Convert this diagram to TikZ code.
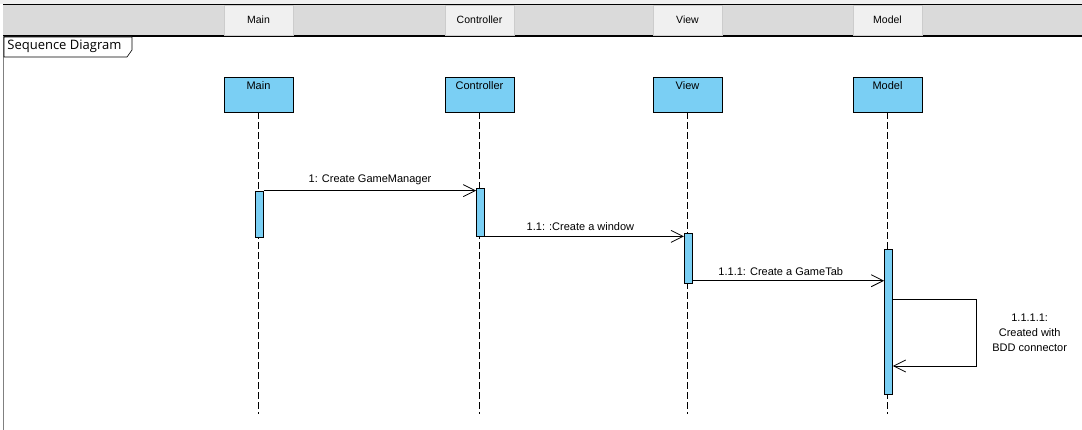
\documentclass[tikz,border=0pt]{standalone}
\usepackage{fontspec}
\setmainfont{Liberation Sans}
\newfontfamily\titlefont{Open Sans}
\usetikzlibrary{arrows.meta}
\definecolor{objblue}{RGB}{122,207,244}
\definecolor{bandgray}{RGB}{218,218,218}
\definecolor{tabgray}{RGB}{240,240,240}
\tikzset{o/.style={draw,fill=objblue,minimum width=69pt,minimum height=35pt,inner sep=0pt}}
\tikzset{ol/.style={anchor=north,yshift=-4.5pt,inner sep=0pt,font=\fontsize{11}{13}\selectfont}}
\tikzset{tb/.style={draw=gray!40,fill=tabgray,minimum width=69pt,minimum height=30pt,inner sep=0pt,font=\fontsize{10.5}{12}\selectfont}}
\tikzset{act/.style={draw,fill=objblue,minimum width=8pt,inner sep=0pt}}
\tikzset{ll/.style={dash pattern=on 7pt off 3pt}}
\tikzset{a/.style={-{Straight Barb[length=12pt,width=12pt]}}}
\tikzset{l/.style={above=5pt,inner sep=0pt,font=\fontsize{11}{13}\selectfont}}

\begin{document}
\begin{tikzpicture}[x=1pt,y=-1pt,line width=0.8pt]
  \useasboundingbox (0,0) rectangle (1082,430);
  % header band
  \fill[tabgray] (0,0) rectangle (1082,4);
  \fill[bandgray] (3,4) rectangle (1082,36);
  \draw (3,4) -- (1082,4);
  \draw[line width=1.2pt] (3,36) -- (1082,36);
  \draw[gray] (3,36) -- (3,430);
  \node[tb] (tMain) at (258.5,20) {Main};
  \node[tb] (tCtrl) at (479.5,20) {Controller};
  \node[tb] (tView) at (687.5,20) {View};
  \node[tb] (tModel) at (887.5,20) {Model};
  % frame label
  \draw[fill=white,line width=0.6pt] (4,37) -- (132,37) -- (132,50) -- (127,57) -- (4,57) -- cycle;
  \node[anchor=west,inner sep=0pt,font=\titlefont\fontsize{13}{15}\selectfont] (title) at (7,46.5) {Sequence Diagram};
  % lifelines
  \node[o,label={[ol]north:Main}] (Main) at (258.5,94.5) {};
  \node[o,label={[ol]north:Controller}] (Ctrl) at (479.5,94.5) {};
  \node[o,label={[ol]north:View}] (View) at (687.5,94.5) {};
  \node[o,label={[ol]north:Model}] (Model) at (887.5,94.5) {};
  \coordinate (bot) at (0,414);
  \foreach \n in {Main,Ctrl,View,Model}
    \draw[ll] (\n.south) -- (\n.south |- bot);
  % activations
  \node[act,minimum height=46pt] (A1) at (259.5,214) {};
  \node[act,minimum height=48pt] (C1) at (480.5,212) {};
  \node[act,minimum height=50pt] (V1) at (688.3,258) {};
  \node[act,minimum height=145pt] (M1) at (888.5,321.7) {};
  % messages
  \draw[a] (A1.north east) -- node[l] {1: Create GameManager} (A1.north east -| C1.west);
  \draw[a] (C1.south east) -- node[l,pos=0.48] {1.1: :Create a window} (C1.south east -| V1.west);
  \draw[a] ([yshift=2.7pt]V1.south east) -- node[l,pos=0.46] {1.1.1: Create a GameTab} ([yshift=2.7pt]V1.south east -| M1.west);
  \coordinate (s1) at (976,299);
  \coordinate (s2) at (976,366);
  \draw[a] (s1 -| M1.east) -- (s1) -- node[right=16pt,inner sep=0pt,align=center,font=\fontsize{11}{15}\selectfont] {1.1.1.1:\\Created with\\BDD connector} (s2) -- (s2 -| M1.east);
\end{tikzpicture}
\end{document}
